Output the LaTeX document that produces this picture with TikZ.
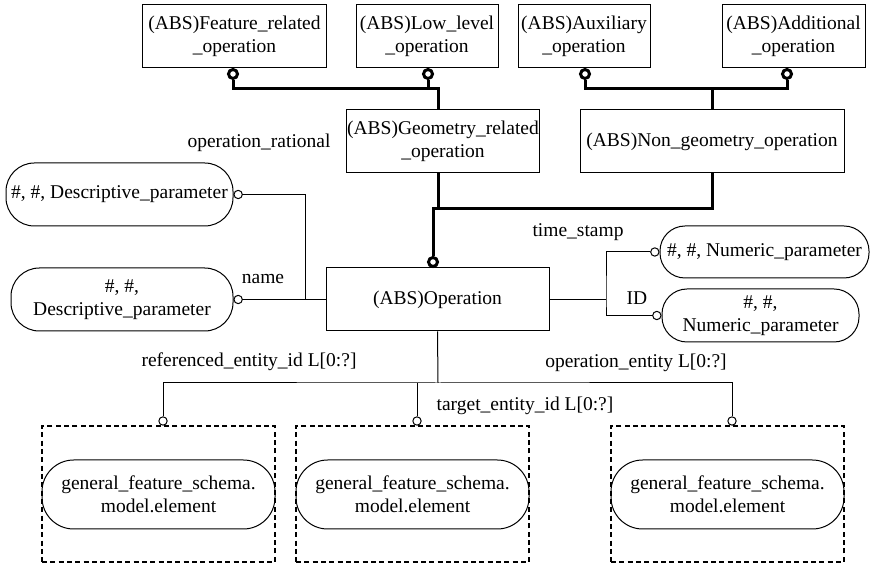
\documentclass[tikz,border=0pt]{standalone}
\usepackage{fontspec}
\setmainfont{Liberation Serif}
\usetikzlibrary{positioning}
\tikzset{
    entbox/.style={
        rectangle,
        draw=black,
        line width=0.6pt,
        align=center,
        minimum height=37.8pt,
        inner sep=0.5pt,
        font=\fontsize{11.7}{13.8}\selectfont
    },
    typeoval/.style={
        rectangle,
        rounded corners=#1,
        draw=black,
        line width=0.6pt,
        align=center,
        inner sep=0.5pt,
        font=\fontsize{11.7}{13.8}\selectfont
    },
    typeoval/.default=17pt,
    scopebox/.style={
        rectangle,
        draw=black,
        line width=0.8pt,
        dash pattern=on 3pt off 2pt
    },
    ring/.style={
        circle,
        draw=black,
        fill=white,
        line width=0.6pt,
        minimum size=5pt,
        inner sep=0pt
    },
    thickring/.style={
        circle,
        draw=black,
        fill=white,
        line width=1.8pt,
        minimum size=5.4pt,
        inner sep=0pt
    },
    lbl/.style={
        inner sep=0pt,
        font=\fontsize{11.7}{13.8}\selectfont
    },
    link/.style={
        draw=black,
        line width=0.6pt
    },
    bus/.style={
        draw=black,
        line width=1.8pt
    }
}

\begin{document}
\begin{tikzpicture}[x=0.6pt,y=-0.6pt]
            \useasboundingbox (0,0) rectangle (872,566);

            % Supertypes on top
            \node[entbox, minimum width=110pt] (featop) at (234.5,36.5) {(ABS)Feature\_related\\\_operation};
            \node[entbox, minimum width=85.2pt] (lowop) at (427,36.5) {(ABS)Low\_level\\\_operation};
            \node[entbox, minimum width=79.2pt] (auxop) at (584,36.5) {(ABS)Auxiliary\\\_operation};
            \node[entbox, minimum width=85.8pt] (addop) at (793.5,36.5) {(ABS)Additional\\\_operation};

            % Middle level
            \node[entbox, minimum width=115.2pt] (geoop) at (443,141.5) {(ABS)Geometry\_related\\\_operation};
            \node[entbox, minimum width=158.4pt] (nongeoop) at (712,141.5) {(ABS)Non\_geometry\_operation};

            % Operation
            \node[entbox, minimum width=133.8pt] (oper) at (437.5,299.5) {(ABS)Operation};

            % Attribute types
            \node[typeoval, minimum width=136.2pt, minimum height=37.8pt] (descA) at (119.5,194.5) {\#, \#, Descriptive\_parameter};
            \node[typeoval, minimum width=133.2pt, minimum height=37.8pt] (descB) at (122,299.5) {\#, \#,\\Descriptive\_parameter};
            \node[typeoval=15pt, minimum width=125.4pt, minimum height=31.2pt] (numA) at (764.5,252) {\#, \#, Numeric\_parameter};
            \node[typeoval=15pt, minimum width=118.2pt, minimum height=31.8pt] (numB) at (760.5,315.5) {\#, \#,\\Numeric\_parameter};

            % Referenced elements
            \node[scopebox, minimum width=139.8pt, minimum height=81.6pt] (scopeA) at (158.5,494) {};
            \node[scopebox, minimum width=139.8pt, minimum height=81.6pt] (scopeB) at (412.5,494) {};
            \node[scopebox, minimum width=139.8pt, minimum height=81.6pt] (scopeC) at (727.5,494) {};
            \node[typeoval=19pt, minimum width=139.8pt, minimum height=41.4pt] (elemA) at (158.5,494.5) {general\_feature\_schema.\\model.element};
            \node[typeoval=19pt, minimum width=139.8pt, minimum height=41.4pt] (elemB) at (412.5,494.5) {general\_feature\_schema.\\model.element};
            \node[typeoval=19pt, minimum width=139.8pt, minimum height=41.4pt] (elemC) at (727.5,494.5) {general\_feature\_schema.\\model.element};

            % Rings
            \node[thickring] (featring) at (233,74) {};
            \node[thickring] (lowring) at (428,74) {};
            \node[thickring] (auxring) at (585,74) {};
            \node[thickring] (addring) at (787,74) {};
            \node[thickring] (operring) at (433,262) {};
            \node[ring, right=0pt of descA] (descAring) {};
            \node[ring, right=0pt of descB] (descBring) {};
            \node[ring, left=0pt of numA] (numAring) {};
            \node[ring, left=0pt of numB] (numBring) {};
            \node[ring] (refring) at (163,421) {};
            \node[ring] (tgtring) at (417,421) {};
            \node[ring] (opentring) at (732,421) {};

            % Labels
            \node[lbl] (ratlbl) at (259,143) {operation\_rational};
            \node[lbl] (namelbl) at (263,279) {name};
            \node[lbl] (stamplbl) at (578,232) {time\_stamp};
            \node[lbl] (idlbl) at (637,298) {ID};
            \node[lbl] (refidlbl) at (249,362) {referenced\_entity\_id L[0:?]};
            \node[lbl] (tgtidlbl) at (525,406) {target\_entity\_id L[0:?]};
            \node[lbl] (opentlbl) at (636,363) {operation\_entity L[0:?]};

            % Subtype buses
            \coordinate (geojoin) at (438,89);
            \coordinate (nongeojoin) at (712,89);
            \coordinate (operjoin) at (438,209);
            \draw[bus] (featring.south) |- (geojoin) -- (geojoin |- geoop.north);
            \draw[bus] (lowring.south) -- (lowring.south |- geojoin);
            \draw[bus] (auxring.south) |- (nongeojoin) -| (addring.south);
            \draw[bus] (nongeojoin) -- (nongeoop.north);
            \draw[bus] (geojoin |- geoop.south) -- (operjoin);
            \draw[bus] (nongeoop.south) |- (operring.north |- operjoin) -- (operring.north);

            % Attributes
            \coordinate (leftjoin) at (305,299.5);
            \coordinate (rightjoin) at (606,299.5);
            \coordinate (elemjoin) at (438,383);
            \draw[link] (descAring.east) -| (leftjoin) -- (oper.west);
            \draw[link] (descBring.east) -- (oper.west);
            \draw[link] (oper.east) -- (rightjoin);
            \draw[link] (numAring.west) -| (rightjoin) |- (numBring.west);
            \draw[link] (oper.south) -- (elemjoin);
            \draw[link] (refring.north) |- (elemjoin) -| (opentring.north);
            \draw[link] (tgtring.north) -- (tgtring.north |- elemjoin);
\end{tikzpicture}
\end{document}
